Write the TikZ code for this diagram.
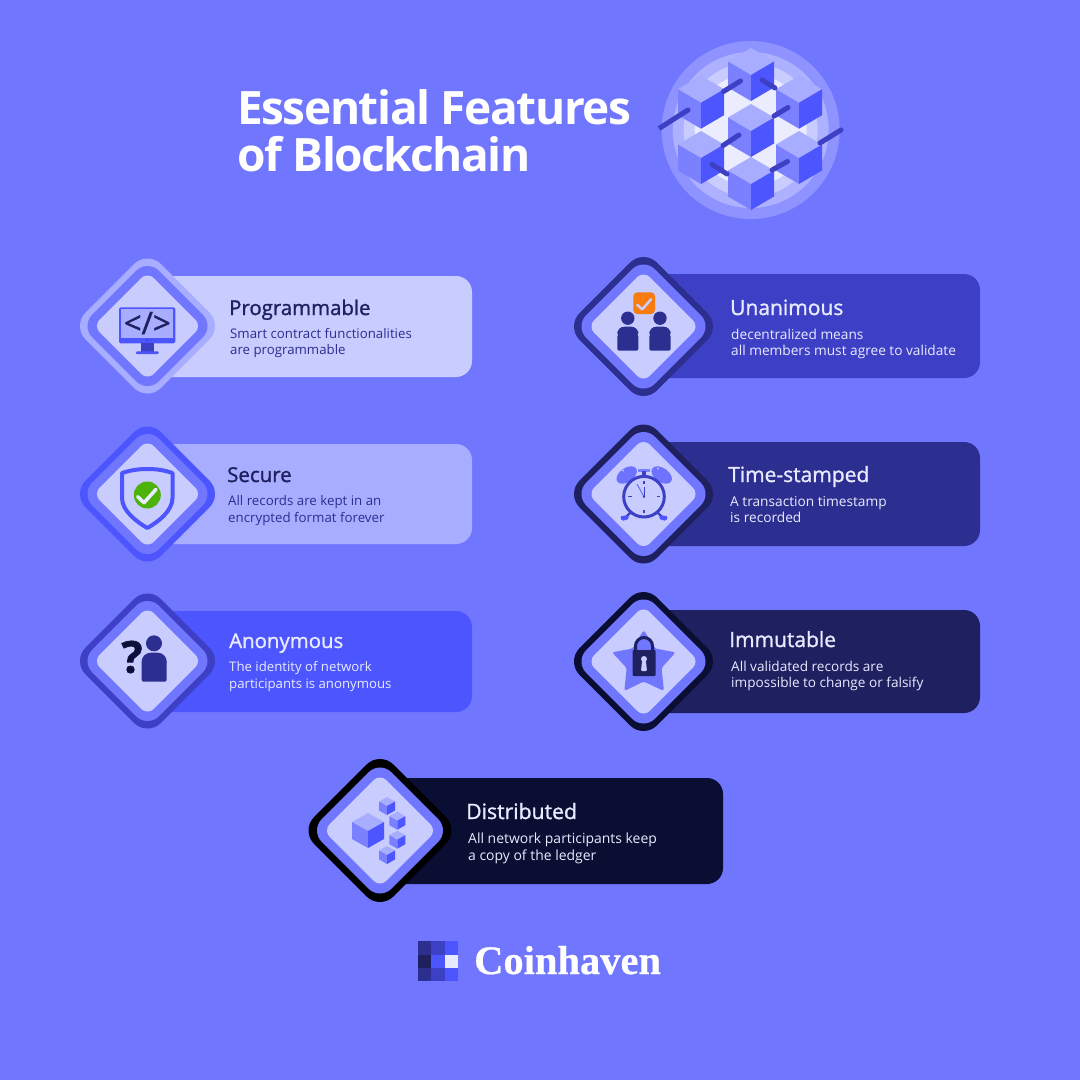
\documentclass[tikz,border=0pt]{standalone}
\usepackage{fontspec}
\setmainfont{Open Sans}
\newfontfamily\semif{Open Sans}[FakeBold=1.2]
\newfontfamily\boldfam{Open Sans}[LetterSpace=-3.1]
\newcommand\boldf{\boldfam\bfseries}
\newfontfamily\heavyfam{Open Sans}[FakeBold=1.5]
\newfontfamily\logofam{Liberation Serif}[FakeBold=0.5]
\newcommand\logof{\logofam\bfseries}
\definecolor{bg}{HTML}{7176FF}
\definecolor{cA}{HTML}{C9CCFF}
\definecolor{cB}{HTML}{A9ADFF}
\definecolor{cC}{HTML}{4D55FF}
\definecolor{cD}{HTML}{3D40C4}
\definecolor{cE}{HTML}{2C2F8F}
\definecolor{cF}{HTML}{1F2060}
\definecolor{cG}{HTML}{0B0E33}
\definecolor{cL}{HTML}{E8EAFF}
\definecolor{cubeL}{HTML}{7B80FF}
\definecolor{ringA}{HTML}{8F93FF}
\definecolor{ringD}{HTML}{EBEDFF}
\definecolor{okgreen}{HTML}{4DB30B}
\definecolor{tick}{HTML}{E9EBFF}
\definecolor{orangebox}{HTML}{F97C10}
\newcommand\diam[5]{%
  \pgfmathsetmacro\da{#3+0.414*#4}%
  \fill[#5,rounded corners=#4pt] ({#1-\da},#2) -- (#1,{#2-\da}) -- ({#1+\da},#2) -- (#1,{#2+\da}) -- cycle;}
\newcommand\badge[6]{% cx cy outer-half mid-half inner-half outer-colour
  \diam{#1}{#2}{#3}{19}{#6}\diam{#1}{#2}{#4}{16}{bg}\diam{#1}{#2}{#5}{9}{cA}}
\newcommand\cardbox[5]{\fill[#5,rounded corners=16pt] (#1,#2) rectangle (#3,#4);}
\newcommand\isocube[5]{% cx cy hw ht h
  \fill[cB] (#1,{#2-2*#4}) -- ({#1+#3},{#2-#4}) -- (#1,#2) -- ({#1-#3},{#2-#4}) -- cycle;
  \fill[cubeL] ({#1-#3},{#2-#4}) -- (#1,#2) -- (#1,{#2+#5}) -- ({#1-#3},{#2-#4+#5}) -- cycle;
  \fill[cC] ({#1+#3},{#2-#4}) -- (#1,#2) -- (#1,{#2+#5}) -- ({#1+#3},{#2-#4+#5}) -- cycle;}
\newcommand\ctitle[6]{\node[anchor=base west,inner sep=0pt,text=#5] (#1) at (#2,#3) {\fontsize{#6}{24}\semif #4};}
\newcommand\cbody[6]{\node[anchor=base west,inner sep=0pt,text=#5] (#1) at (#2,#3) {\fontsize{#6}{16}\selectfont #4};}
\newcommand\person[5]{% body x0 x1 y0 y1, head r
  \fill[cE] ({(#1+#2)/2},{#3-8.5}) circle (#5pt);
  \fill[cE,rounded corners=2pt] (#1,#4) -- (#1,{#3+8}) -- (#2,{#3+8}) -- (#2,#4) -- cycle;
  \fill[cE,rounded corners=7pt] (#1,{#3+12}) -- (#1,#3) -- (#2,#3) -- (#2,{#3+12}) -- cycle;}
\begin{document}
\begin{tikzpicture}[x=1pt,y=-1pt,
  bar/.style={cD,line width=5pt,line cap=round},
  iconline/.style={line cap=round,line join=round}]
\useasboundingbox (0,0) rectangle (1080,1080);
\fill[bg] (0,0) rectangle (1080,1080);
% title
\node[anchor=base west,inner sep=0pt,text=white] (t1) at (237,124) {\fontsize{46}{50}\boldf Essential Features};
\node[anchor=base west,inner sep=0pt,text=white] (t2) at (237,171) {\fontsize{46}{50}\boldf of Blockchain};
% blockchain emblem
\fill[ringA] (750.7,130) circle (89pt);
\fill[cB!95!white] (750.7,130) circle (78pt);
\fill[cA] (750.7,130) circle (67pt);
\fill[ringD] (750.7,130) circle (56pt);
\isocube{751}{75}{23}{13.5}{26}
\isocube{701}{102.7}{23}{13.5}{26}
\isocube{799}{102.7}{23}{13.5}{26}
\draw[bar] (723.5,91.5) -- (740.5,81);
\draw[bar] (762,80) -- (775,88);
\isocube{751}{131}{23}{13.5}{26}
\isocube{701}{158}{23}{13.5}{26}
\isocube{799}{158}{23}{13.5}{26}
\draw[bar] (774,116) -- (788,107.5);
\draw[bar] (723,145.5) -- (739,135);
\isocube{751}{184}{23}{13.5}{26}
\draw[bar] (712,164.5) -- (727,174);
\draw[bar] (772,170) -- (787.5,161.5);
\draw[cD,line width=5pt] (659,128.5) -- (688,110);
\fill[cD] (688,110) circle (2.5pt);
\draw[bar] (820,143) -- (841,130);
% cards
\cardbox{150}{276}{472}{377}{cA}
\cardbox{150}{444}{472}{544}{cB}
\cardbox{150}{611}{472}{712}{cC}
\cardbox{645}{274}{980}{378}{cD}
\cardbox{645}{442}{980}{546}{cE}
\cardbox{645}{610}{980}{713}{cF}
\cardbox{380}{778}{723}{884}{cG}
% badges
\badge{147.5}{326}{67.5}{60}{50.5}{cB}
\badge{147.5}{494}{67.5}{60}{50.5}{cC}
\badge{147.5}{661}{67.5}{60}{50.5}{cD}
\badge{643.5}{326.5}{69.5}{62}{52}{cE}
\badge{643.5}{494}{69.5}{62}{52}{cF}
\badge{643.5}{661.5}{69.5}{62}{52}{cG}
\badge{380}{830.5}{71.5}{63}{53}{black}
% monitor icon
\fill[cC,rounded corners=1.5pt] (119,307.3) rectangle (175.3,343.3);
\fill[cB] (121,309.3) rectangle (173.3,337.7);
\fill[cD] (140.7,343) rectangle (154.3,351.7);
\fill[cC,rounded corners=1pt] (136,351.3) rectangle (158.7,354);
\fill[cD] (147.3,340.3) circle (1.1pt);
\node[inner sep=0pt,text=cF] (codeglyph) at (147.3,323) {\fontsize{31}{31}\semif </>};
% shield icon
\draw[cC,fill=cA,line width=4pt,line join=round] (147.3,469) .. controls (137,469) and (130,470.5) .. (122,473) -- (122,498) .. controls (122,511) and (137,522) .. (147.3,528) .. controls (158,522) and (172.5,511) .. (172.5,498) -- (172.5,473) .. controls (165,470.5) and (158,469) .. (147.3,469) -- cycle;
\fill[okgreen] (147.3,495) circle (13.5pt);
\draw[tick,line width=3.5pt,iconline] (137.7,496.7) -- (144,502.7) -- (156,489.3);
% anonymous icon
\fill[cE] (154,643.3) circle (8pt);
\fill[cE,rounded corners=2pt] (141.7,681.7) -- (141.7,660) -- (166.7,660) -- (166.7,681.7) -- cycle;
\fill[cE,rounded corners=9pt] (141.7,670) -- (141.7,652.7) -- (166.7,652.7) -- (166.7,670) -- cycle;
\node[inner sep=0pt,text=cG!90!cF] (qmark) at (132,657) {\fontsize{44}{44}\heavyfam\bfseries ?};
% unanimous icon
\fill[orangebox,rounded corners=4pt] (633.3,292.3) rectangle (655,314);
\draw[cA,line width=2.5pt,iconline] (637.3,305) -- (642.3,309.3) -- (651,299.3);
\person{617.3}{638.3}{326.7}{350.7}{6.7}
\person{649.3}{670.7}{326.7}{350.7}{6.7}
% clock icon
\fill[cubeL!70!cC,rotate around={35:(626.7,475)}] (626.7,475) ellipse (11.5pt and 7pt);
\fill[cubeL!70!cC,rotate around={-35:(661.7,475)}] (661.7,475) ellipse (11.5pt and 7pt);
\fill[cA] (623,470.5) circle (1pt);
\fill[cA] (658,468.5) circle (1pt);
\fill[cubeL] (638,468.5) rectangle (650,472);
\fill[cD] (642,471) rectangle (646,476);
\draw[cD,line width=2.4pt,iconline] (630,513) -- (625,518);
\draw[cD,line width=2.4pt,iconline] (658,513) -- (663,518);
\fill[cC,rounded corners=1.5pt] (620,516.5) -- (628,515) -- (629,519) -- (622,521) -- cycle;
\fill[cC,rounded corners=1.5pt] (660,515) -- (668,516.5) -- (666,521) -- (659,519) -- cycle;
\draw[cD,fill=cA,line width=3pt] (644,496.7) circle (20.3pt);
\draw[cD,line width=1.4pt] (644,481) -- (644,484);
\draw[cD,line width=1.4pt] (644,509.5) -- (644,513);
\draw[cD,line width=1.4pt] (628,496.7) -- (631.5,496.7);
\draw[cD,line width=1.4pt] (656.5,496.7) -- (660,496.7);
\draw[cubeL!70!cD,line width=1pt] (644,496.7) -- (637,484);
\draw[cD,line width=1pt] (644,496.7) -- (644,487);
\fill[cD] (644,496.7) circle (1.4pt);
% star and lock icon
\fill[bg,rounded corners=2.5pt] (643.7,630) -- (655,648.5) -- (675.7,652.3) -- (661.5,668) -- (664,691) -- (643.7,681.5) -- (624.3,691) -- (626.7,668) -- (612,652.3) -- (632.7,648.5) -- cycle;
\draw[cF,line width=3pt] (635.5,652) -- (635.5,646) arc[start angle=180,end angle=0,radius=8.5pt] -- (652.5,652);
\fill[cF,rounded corners=1pt] (632.7,650) rectangle (655.7,676);
\fill[cA] (644,659) circle (3pt);
\fill[cA,rounded corners=1pt] (642.2,660) -- (645.8,660) -- (647,671) -- (641,671) -- cycle;
% distributed icon
\isocube{368}{831}{16}{9}{17}
\isocube{387}{806}{8}{4.5}{9}
\isocube{397.3}{820.7}{8}{4.5}{9}
\isocube{397.3}{839.7}{8}{4.5}{9}
\isocube{387}{855}{8}{4.5}{9}
% card text
\ctitle{h1}{229}{315}{Programmable}{cF}{20.4}
\cbody{b1a}{230}{338}{Smart contract functionalities}{cE}{13.25}
\cbody{b1b}{230}{354}{are programmable}{cE}{13.25}
\ctitle{h2}{227}{482}{Secure}{cF}{20.5}
\cbody{b2a}{228}{505}{All records are kept in an}{cE}{13.3}
\cbody{b2b}{228}{522}{encrypted format forever}{cE}{13.3}
\ctitle{h3}{229}{648}{Anonymous}{cL}{20.4}
\cbody{b3a}{229}{671}{The identity of network}{cL}{13.2}
\cbody{b3b}{229}{688}{participants is anonymous}{cL}{13.2}
\ctitle{h4}{730}{315}{Unanimous}{cL}{21}
\cbody{b4a}{731}{339}{decentralized means}{cL}{13.68}
\cbody{b4b}{731}{355}{all members must agree to validate}{cL}{13.68}
\ctitle{h5}{728}{482}{Time-stamped}{cL}{21}
\cbody{b5a}{730}{506}{A transaction timestamp}{cL}{13.7}
\cbody{b5b}{730}{522}{is recorded}{cL}{13.7}
\ctitle{h6}{729}{647}{Immutable}{cL}{21}
\cbody{b6a}{731}{671}{All validated records are}{cL}{13.6}
\cbody{b6b}{731}{687}{impossible to change or falsify}{cL}{13.6}
\ctitle{h7}{466}{819}{Distributed}{cL}{21.2}
\cbody{b7a}{468}{843}{All network participants keep}{cL}{13.95}
\cbody{b7b}{468}{860}{a copy of the ledger}{cL}{13.95}
% logo
\fill[cE] (418,941) rectangle (431.3,954.5);
\fill[cD] (431.3,941) rectangle (444.5,954.5);
\fill[cC] (444.5,941) rectangle (457.7,954.5);
\fill[cF] (418,954.5) rectangle (431.3,968);
\fill[cC] (431.3,954.5) rectangle (444.5,968);
\fill[cL] (444.5,954.5) rectangle (457.7,968);
\fill[cE] (418,968) rectangle (431.3,981);
\fill[cD] (431.3,968) rectangle (444.5,981);
\fill[cC] (444.5,968) rectangle (457.7,981);
\node[anchor=base west,inner sep=0pt,text=white] (logo) at (474,974) {\fontsize{40.5}{40}\logof Coinhaven};
\end{tikzpicture}
\end{document}
